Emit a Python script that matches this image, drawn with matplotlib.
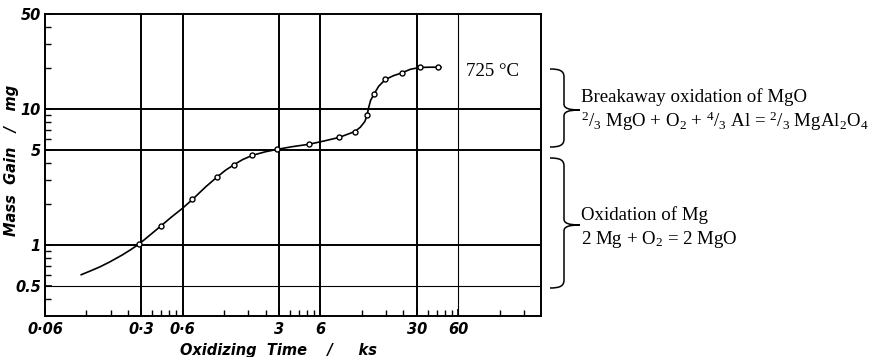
import numpy as np
import matplotlib
matplotlib.use("Agg")
import matplotlib.pyplot as plt
from matplotlib.path import Path
from matplotlib.patches import PathPatch
from matplotlib.ticker import FixedLocator, NullFormatter

plt.rcParams['mathtext.fontset'] = 'custom'
plt.rcParams['mathtext.rm'] = 'Liberation Serif'
plt.rcParams['mathtext.it'] = 'Liberation Serif:italic'

# measured points (open circles)
meas_time = [0.29, 0.417, 0.706, 1.07, 1.42, 1.92, 2.92, 4.95, 8.16, 10.7, 13.1, 14.8, 17.8, 23.3, 31.5, 42.7]
meas_gain = [1.02, 1.38, 2.16, 3.17, 3.90, 4.56, 5.05, 5.50, 6.20, 6.80, 9.0, 13.0, 16.5, 18.4, 20.3, 20.3]

# fitted curve
curve_time = [0.110, 0.126, 0.149, 0.176, 0.219, 0.252, 0.29, 0.343, 0.417, 0.492, 0.598, 0.706, 0.883, 1.07,
              1.23, 1.42, 1.63, 1.92, 2.40, 2.92, 3.73, 4.95, 6.34, 8.16, 10.7, 11.7, 12.6, 13.1, 13.4, 13.9,
              14.8, 15.9, 17.8, 20.4, 23.3, 27.0, 31.5, 37.0, 42.7, 45.0]
curve_gain = [0.604, 0.639, 0.687, 0.747, 0.845, 0.924, 1.017, 1.17, 1.38, 1.59, 1.86, 2.16, 2.68, 3.17,
              3.55, 3.90, 4.24, 4.56, 4.85, 5.05, 5.28, 5.50, 5.81, 6.17, 6.83, 7.35, 8.08, 9.0, 10.1, 11.6,
              13.0, 14.7, 16.5, 17.6, 18.4, 19.6, 20.2, 20.3, 20.3, 20.3]

x_major = [0.06, 0.3, 0.6, 3, 6, 30, 60]
x_major_labels = ['0·06', '0·3', '0·6', '3', '6', '30', '60']
x_grid = [0.3, 0.6, 3, 6, 30]
x_grid_thin = [60]
x_minor = [0.12, 0.18, 0.24, 0.36, 0.42, 0.48, 0.54, 1.2, 1.8, 2.4, 3.6, 4.2, 4.8, 5.4,
           12, 18, 24, 36, 42, 48, 54, 120, 180]
y_major = [0.5, 1, 5, 10, 50]
y_major_labels = ['0.5', '1', '5', '10', '50']
y_grid = [1, 5, 10]
y_grid_thin = [0.5]
y_minor = [0.4, 0.6, 0.7, 0.8, 0.9, 2, 3, 4, 6, 7, 8, 9, 20, 30, 40]

W, H = 873, 357
fig = plt.figure(figsize=(W / 100, H / 100), dpi=100)
ax = fig.add_axes([45 / W, 1 - 316 / H, (541 - 45) / W, (316 - 14) / H])
ax.set_xscale('log')
ax.set_yscale('log')
ax.set_xlim(0.06, 240)
ax.set_ylim(0.3, 50)

for v in x_grid:
    ax.axvline(v, color='black', lw=1.4, zorder=1)
for v in x_grid_thin:
    ax.axvline(v, color='black', lw=0.8, zorder=1)
for v in y_grid:
    ax.axhline(v, color='black', lw=1.4, zorder=1)
for v in y_grid_thin:
    ax.axhline(v, color='black', lw=0.8, zorder=1)

ax.plot(curve_time, curve_gain, color='black', lw=1.2, zorder=3)
ax.plot(meas_time, meas_gain, linestyle='none', marker='o', ms=3.6, mfc='white', mec='black', mew=1.0, zorder=4)

ax.xaxis.set_major_locator(FixedLocator(x_major))
ax.xaxis.set_minor_locator(FixedLocator(x_minor))
ax.set_xticklabels(x_major_labels)
ax.xaxis.set_minor_formatter(NullFormatter())
ax.yaxis.set_major_locator(FixedLocator(y_major))
ax.yaxis.set_minor_locator(FixedLocator(y_minor))
ax.set_yticklabels(y_major_labels)
ax.yaxis.set_minor_formatter(NullFormatter())

tick_font = dict(family='DejaVu Sans', style='italic', size=10.5, weight='bold')
for lab in ax.get_xticklabels() + ax.get_yticklabels():
    lab.set_fontfamily('DejaVu Sans')
    lab.set_fontstyle('italic')
    lab.set_fontweight('bold')
    lab.set_fontsize(10.5)
ax.tick_params(axis='both', which='major', direction='in', length=5, width=1.2, pad=4)
ax.tick_params(axis='y', which='major', pad=3)
ax.tick_params(axis='both', which='minor', direction='in', length=4, width=1.0)
for s in ax.spines.values():
    s.set_linewidth(1.4)
    s.set_color('black')

fig.text(12 / W, 1 - 160 / H, 'Mass  Gain   /   mg', rotation=90, ha='center', va='center', **tick_font)
fig.text(278 / W, 1 - 351 / H, 'Oxidizing  Time    /     ks', ha='center', va='center', **tick_font)

serif = dict(family='Liberation Serif', size=13.6)
fig.text(466 / W, 1 - 71 / H, '725 °C', ha='left', va='center', **serif)
fig.text(581 / W, 1 - 97 / H, 'Breakaway oxidation of MgO', ha='left', va='center', **serif)
fig.text(581 / W, 1 - 121 / H,
         r'${}^{2}/_{3}$ MgO + O$_{2}$ + ${}^{4}/_{3}$ Al = ${}^{2}/_{3}$ MgAl$_{2}$O$_{4}$',
         ha='left', va='center', **serif)
fig.text(581 / W, 1 - 215 / H, 'Oxidation of Mg', ha='left', va='center', **serif)
fig.text(581 / W, 1 - 239 / H, r'2 Mg + O$_{2}$ = 2 MgO', ha='left', va='center', **serif)


def brace(yt, ym, yb, xl=550, xv=564, xt=580):
    pts = [(xl, yt), (xv - 4, yt), (xv, yt + 2), (xv, yt + 8),
           (xv, ym - 6),
           (xv, ym - 2), (xv + 4, ym), (xt, ym),
           (xv + 4, ym), (xv, ym + 2), (xv, ym + 6),
           (xv, yb - 8),
           (xv, yb - 2), (xv - 4, yb), (xl, yb)]
    codes = [Path.MOVETO, Path.CURVE4, Path.CURVE4, Path.CURVE4,
             Path.LINETO,
             Path.CURVE4, Path.CURVE4, Path.CURVE4,
             Path.CURVE4, Path.CURVE4, Path.CURVE4,
             Path.LINETO,
             Path.CURVE4, Path.CURVE4, Path.CURVE4]
    verts = [(x / W, 1 - y / H) for x, y in pts]
    fig.add_artist(PathPatch(Path(verts, codes), transform=fig.transFigure,
                             facecolor='none', edgecolor='black', lw=1.1))


brace(69, 110, 147)
brace(158, 225, 288)

fig.savefig('out.png', dpi=100)
